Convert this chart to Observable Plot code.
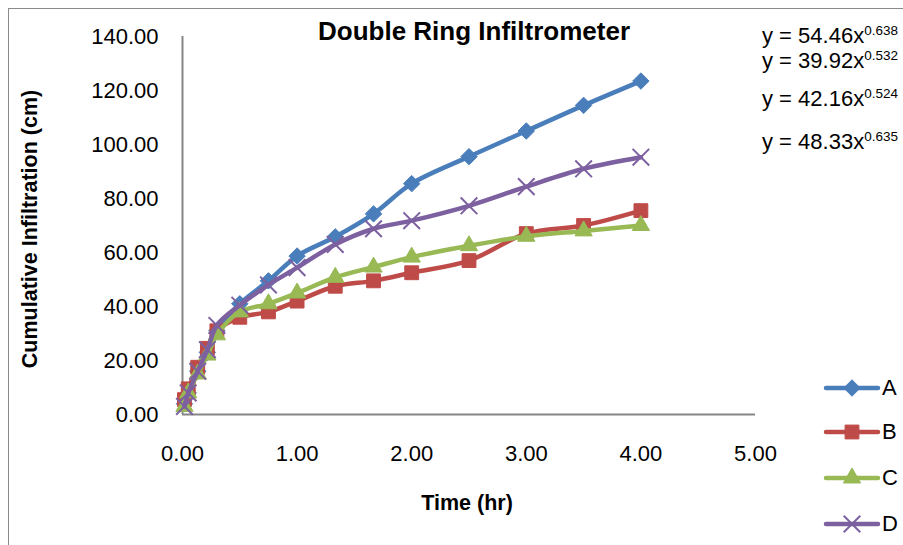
<!DOCTYPE html>
<html>
<head>
<meta charset="utf-8">
<script src="https://cdn.jsdelivr.net/npm/d3@7"></script>
<script src="https://cdn.jsdelivr.net/npm/@observablehq/plot@0.6"></script>
<style>
  html, body { margin: 0; padding: 0; background: #fff; }
  body { width: 903px; height: 545px; overflow: hidden; position: relative;
         font-family: "Liberation Sans", Arial, sans-serif; color: #000; }
  #frame { position: absolute; left: 8px; top: 8px; width: 1000px; height: 1000px;
           border-left: 1.5px solid #8a8a8a; border-top: 1.5px solid #8a8a8a; }
  #chart { position: absolute; left: 0; top: 0; }
  .t { position: absolute; white-space: nowrap; }
  .c { transform: translate(-50%, -50%); }
  .title { font-weight: bold; font-size: 26px; }
  .axl { font-weight: bold; font-size: 21.5px; }
  .eq { font-size: 22px; line-height: 17px; height: 17px; overflow: visible; }
  .eq sup { font-size: 13.5px; line-height: 10px; vertical-align: 0; position: relative; top: -8px; }
  .leg { position: absolute; font-size: 22px; }
</style>
</head>
<body>
<div id="frame"></div>
<div id="chart"></div>
<div class="t c title" style="left:474px; top:31px;">Double Ring Infiltrometer</div>
<div class="t c axl" style="left:467px; top:503px;">Time (hr)</div>
<div class="t axl" style="left:30px; top:229px; transform: translate(-50%,-50%) rotate(-90deg);">Cumulative Infiltration (cm)</div>
<div id="eqs"></div>
<div id="legend"></div>
<script>
// ---- data ----
const times = [0.017, 0.05, 0.133, 0.217, 0.3, 0.5, 0.75, 1.0, 1.333, 1.667, 2.0, 2.5, 3.0, 3.5, 4.0];
const seriesA = [4, 8, 16, 23, 31, 41, 49.5, 58.7, 65.8, 74.3, 85.5, 95.5, 105, 114.5, 123.5];
const seriesB = [5.5, 9.5, 17.5, 24.5, 31, 36, 38, 42, 47.5, 49.5, 52.5, 57, 67, 70, 75.5];
const seriesC = [3, 8, 15, 22, 29.5, 38, 41, 45, 50.8, 54.6, 58.3, 62.5, 66, 68, 70];
const seriesD = [3, 8, 16, 24, 33, 40.5, 48, 54.4, 63, 68.8, 71.8, 77.3, 84.4, 91, 95.3];
const seriesNames = ["A", "B", "C", "D"];
const seriesColors = ["#4A7EBB", "#BE4B48", "#98B954", "#7D60A0"];
const equations = [["54.46", "0.638"], ["39.92", "0.532"], ["42.16", "0.524"], ["48.33", "0.635"]];
const xTicks = [0, 1, 2, 3, 4, 5];
const yTicks = [0, 20, 40, 60, 80, 100, 120, 140];

const allSeries = [seriesA, seriesB, seriesC, seriesD];
const data = [];
allSeries.forEach((vals, si) => vals.forEach((v, i) => data.push({series: seriesNames[si], t: times[i], v})));

const symbolSpec = {
  A: {symbol: "diamond2", r: 7.4, fill: true},
  B: {symbol: "square", r: 7.8, fill: true},
  C: {symbol: "triangle", r: 6.4, fill: true},
  D: {symbol: "times", r: 7.6, fill: false}
};

const marks = [
  Plot.axisX({ticks: xTicks, tickFormat: d => d.toFixed(2), tickSize: 0, tickPadding: 31, label: null}),
  Plot.axisY({ticks: yTicks, tickFormat: d => d.toFixed(2), tickSize: 0, tickPadding: 24, label: null}),
  Plot.ruleX([0], {y1: 0, y2: 140, stroke: "#868686", strokeWidth: 2}),
  Plot.ruleY([0], {x1: 0, x2: 5, stroke: "#868686", strokeWidth: 2})
];
seriesNames.forEach((name, si) => {
  const sub = data.filter(d => d.series === name);
  const color = seriesColors[si];
  marks.push(Plot.line(sub, {x: "t", y: "v", stroke: color, strokeWidth: 4.5, curve: "catmull-rom", strokeLinejoin: "round", strokeLinecap: "round"}));
  const s = symbolSpec[name];
  marks.push(Plot.dot(sub, s.fill
    ? {x: "t", y: "v", symbol: () => s.symbol, r: s.r, fill: color, stroke: color, strokeWidth: 1}
    : {x: "t", y: "v", symbol: () => s.symbol, r: s.r, stroke: color, strokeWidth: 2, fill: "none"}));
});

const chart = Plot.plot({
  width: 903,
  height: 545,
  marginLeft: 182,
  marginRight: 148,
  marginTop: 36,
  marginBottom: 131,
  x: {domain: [0, 5]},
  y: {domain: [0, 140]},
  symbol: {type: "identity"},
  style: {fontFamily: "'Liberation Sans', Arial, sans-serif", fontSize: "22px", color: "#000", background: "transparent", overflow: "visible"},
  marks
});
document.getElementById("chart").appendChild(chart);

// equations
const eqTops = [28, 53, 91, 134];
const eqDiv = document.getElementById("eqs");
equations.forEach(([a, b], i) => {
  const el = document.createElement("div");
  el.className = "t eq";
  el.style.left = "762px";
  el.style.top = (eqTops[i] - 1) + "px";
  el.innerHTML = `y = ${a}x<sup>${b}</sup>`;
  eqDiv.appendChild(el);
});

// legend
const legY = [388, 432, 478, 524];
const legDiv = document.getElementById("legend");
seriesNames.forEach((name, si) => {
  const color = seriesColors[si];
  const y = legY[si];
  const wrap = document.createElement("div");
  wrap.className = "leg";
  wrap.style.left = "820px";
  wrap.style.top = (y - 15) + "px";
  wrap.style.height = "30px";
  wrap.style.display = "flex";
  wrap.style.alignItems = "center";
  const sym = d3.symbol().type({A: d3.symbolDiamond2, B: d3.symbolSquare, C: d3.symbolTriangle, D: d3.symbolTimes}[name])
    .size({A: 172, B: 191, C: 129, D: 181}[name])();
  const isX = name === "D";
  wrap.innerHTML = `<svg width="62" height="30" style="display:block">
    <line x1="6" x2="58" y1="15" y2="15" stroke="${color}" stroke-width="4.5" stroke-linecap="round"/>
    <path transform="translate(32,15)" d="${sym}" fill="${isX ? "none" : color}" stroke="${color}" stroke-width="${isX ? 2 : 1}"/>
  </svg><span style="margin-left:0px">${name}</span>`;
  legDiv.appendChild(wrap);
});
</script>
</body>
</html>
